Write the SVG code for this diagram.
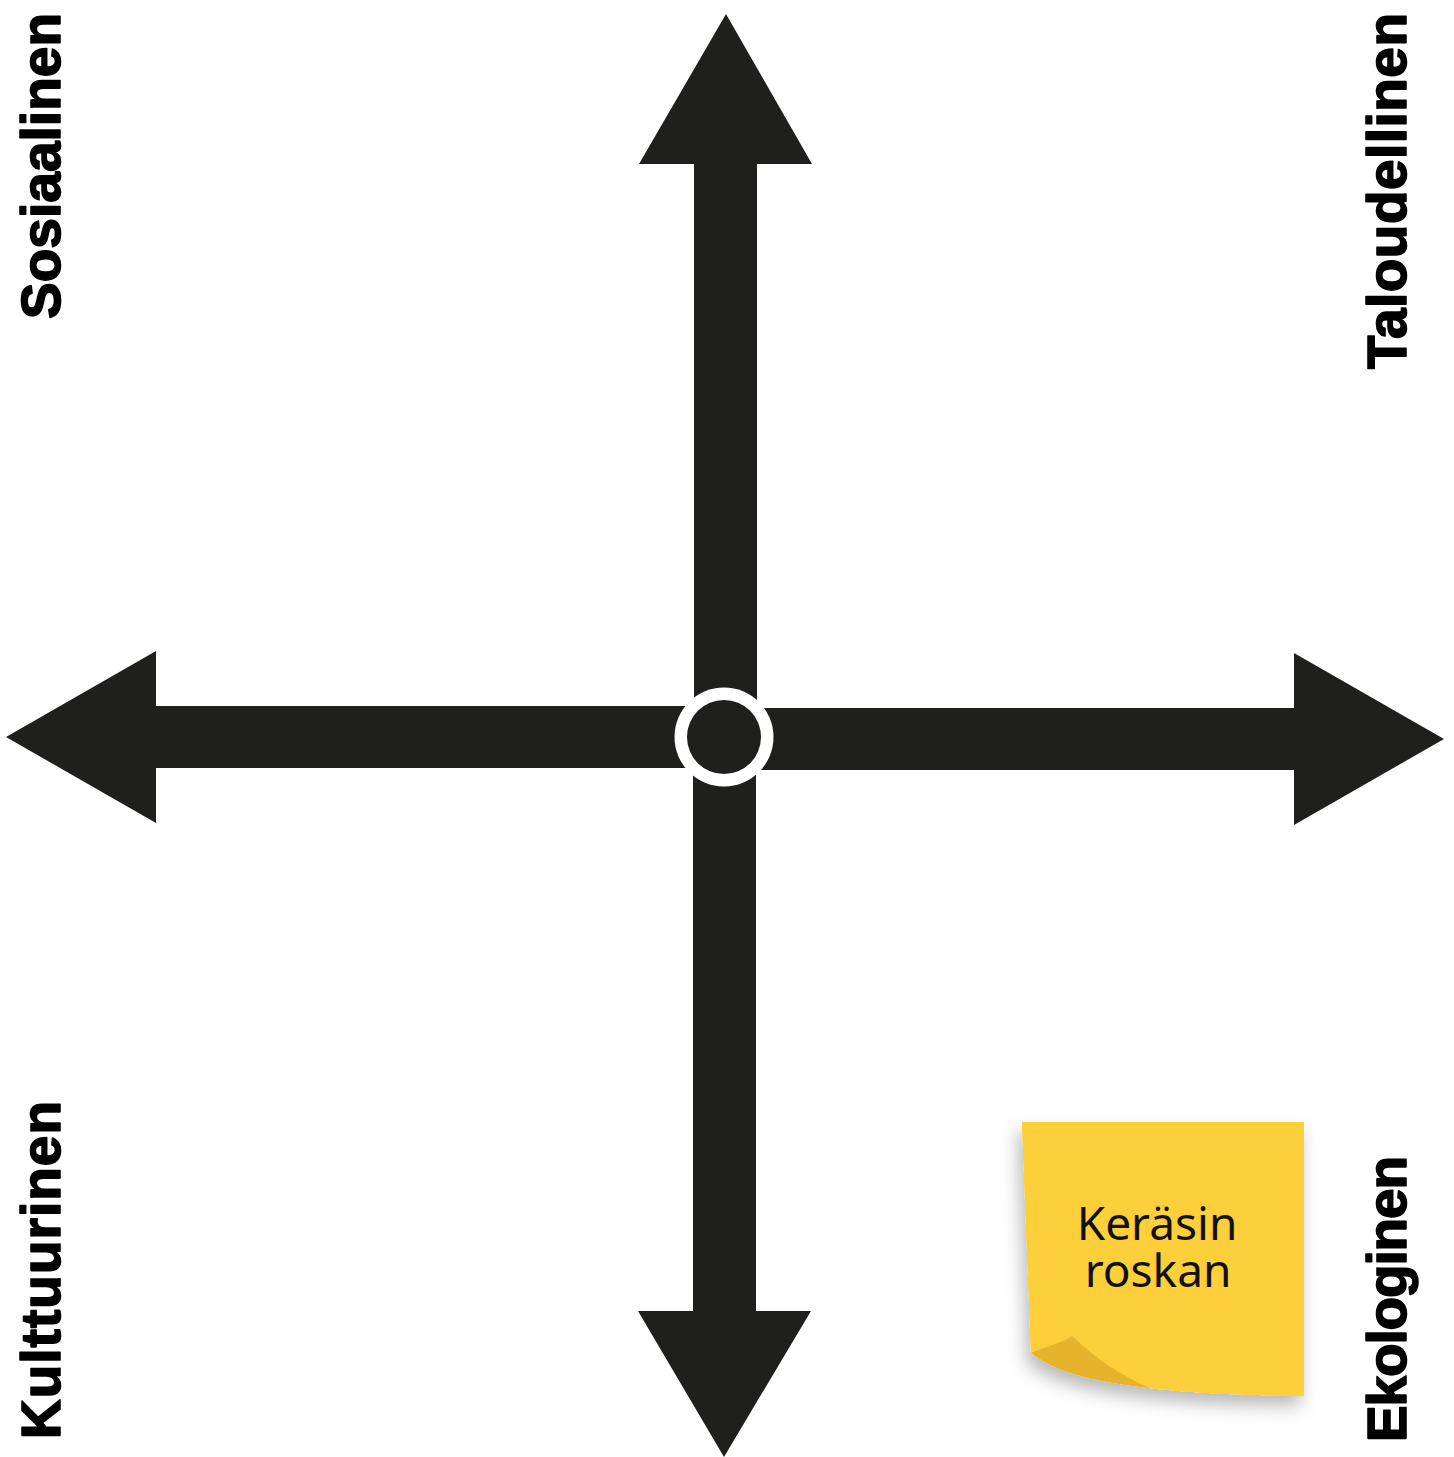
<svg xmlns="http://www.w3.org/2000/svg" width="1454" height="1457" viewBox="0 0 1454 1457">
<style>
.arrow{fill:#1f1f1d}
.label{font-family:"Liberation Sans",Arial,sans-serif;font-weight:bold;font-size:55px;fill:#000;stroke:#000;stroke-width:1.6;stroke-linejoin:round}
.note-text{font-family:"Noto Sans","Open Sans",sans-serif;font-size:46px;fill:#111;text-anchor:middle}
</style>
<defs>
<filter id="shadow" x="-20%" y="-20%" width="140%" height="150%">
<feDropShadow dx="-4" dy="10" stdDeviation="9" flood-color="#000" flood-opacity="0.28"/>
</filter>
</defs>
<rect width="1454" height="1457" fill="#fff"/>
<g id="connectors">
<polygon class="arrow" points="726,14 812,164 757,164 757,700 694,700 694,164 639,164"/>
<polygon class="arrow" points="724,1457 811,1311 756,1311 756,775 693,775 693,1311 638,1311"/>
<polygon class="arrow" points="6,737 156,651 156,706 690,706 690,768 156,768 156,823"/>
<polygon class="arrow" points="1444,739 1294,653 1294,708 760,708 760,770 1294,770 1294,825"/>
</g>
<g id="center">
<circle cx="724" cy="737" r="49.5" fill="#fff"/>
<circle cx="724" cy="737" r="37" fill="#1f1f1d"/>
</g>
<g id="label-sosiaalinen"><text class="label" text-anchor="end" textLength="306" lengthAdjust="spacing" transform="translate(60,13) rotate(-90)">Sosiaalinen</text></g>
<g id="label-taloudellinen"><text class="label" text-anchor="end" textLength="356" lengthAdjust="spacing" transform="translate(1406,13) rotate(-90)">Taloudellinen</text></g>
<g id="label-kulttuurinen"><text class="label" text-anchor="start" textLength="338" lengthAdjust="spacing" transform="translate(60,1439) rotate(-90)">Kulttuurinen</text></g>
<g id="label-ekologinen"><text class="label" text-anchor="start" textLength="286" lengthAdjust="spacing" transform="translate(1406,1442) rotate(-90)">Ekologinen</text></g>
<g id="note">
<path filter="url(#shadow)" fill="#fdcf3b" d="M1022,1122 L1304,1122 L1304,1396 C1240,1395 1190,1393 1150,1388 C1100,1382 1060,1375 1031,1353 Z"/>
<path fill="#fdcf3b" d="M1022,1122 L1304,1122 L1304,1396 C1240,1395 1190,1393 1150,1388 C1100,1382 1060,1375 1031,1353 Z"/>
<path fill="#e6b42a" d="M1031,1353 C1050,1345 1062,1343 1072,1336 C1095,1358 1120,1375 1150,1388 C1100,1382 1060,1375 1031,1353 Z"/>
<text class="note-text"><tspan x="1157" y="1240">Keräsin</tspan><tspan x="1158" y="1287">roskan</tspan></text>
</g>
</svg>
